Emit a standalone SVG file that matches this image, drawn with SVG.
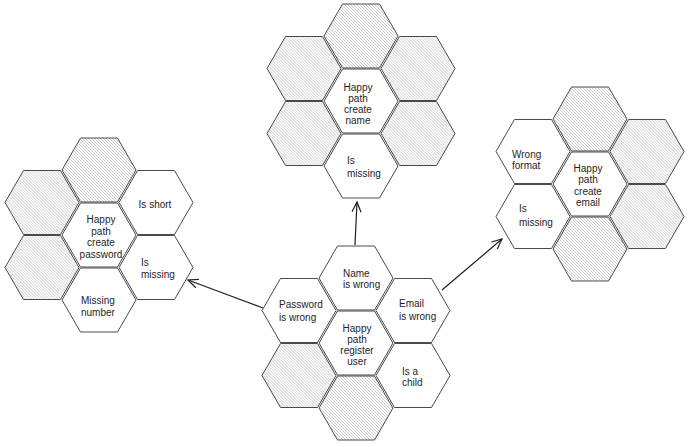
<svg xmlns="http://www.w3.org/2000/svg" xmlns:xlink="http://www.w3.org/1999/xlink" width="690" height="447" viewBox="0 0 690 447">
<style>
.hex{stroke:#4a4a4a;stroke-width:1;stroke-linejoin:round}
.white{fill:#fff}
.hatched{fill:url(#hatch)}
text{font-family:"Liberation Sans",Arial,sans-serif;font-size:10px;fill:#1e1e1e}
.mid{text-anchor:middle}
.conn{stroke:#1e1e1e;stroke-width:1.2;fill:none;marker-end:url(#arr)}
</style>
<defs>
<pattern id="hatch" patternUnits="userSpaceOnUse" width="3" height="3">
<rect width="3" height="3" fill="#fff"/>
<path d="M-1,-1 L4,4 M-1,2 L1,4 M2,-1 L4,1" stroke="#a6a6a6" stroke-width="0.6"/>
</pattern>
<polygon id="hex" points="-37,0 -18.5,-32 18.5,-32 37,0 18.5,32 -18.5,32"/>
<marker id="arr" markerWidth="14" markerHeight="14" refX="12" refY="7" orient="auto" markerUnits="userSpaceOnUse">
<path d="M2,2.5 L12,7 L2,11.5" fill="none" stroke="#1e1e1e" stroke-width="1.2"/>
</marker>
</defs>

<g id="connectors">
<line class="conn" x1="355" y1="245" x2="357" y2="202"/>
<line class="conn" x1="263" y1="308" x2="188" y2="280"/>
<line class="conn" x1="442" y1="290" x2="502" y2="239"/>
</g>

<!-- Top cluster: create name -->
<g id="name-top"><use xlink:href="#hex" href="#hex" x="361" y="36" class="hex hatched"/></g>
<g id="name-ul"><use xlink:href="#hex" href="#hex" x="304" y="68.5" class="hex hatched"/></g>
<g id="name-ur"><use xlink:href="#hex" href="#hex" x="418" y="68.5" class="hex hatched"/></g>
<g id="name-ll"><use xlink:href="#hex" href="#hex" x="304" y="133.5" class="hex hatched"/></g>
<g id="name-lr"><use xlink:href="#hex" href="#hex" x="418" y="133.5" class="hex hatched"/></g>
<g id="happy-name">
<use xlink:href="#hex" href="#hex" x="361" y="101" class="hex white"/>
<text class="mid" x="358" y="91">Happy</text>
<text class="mid" x="358" y="102">path</text>
<text class="mid" x="358" y="113">create</text>
<text class="mid" x="358" y="124">name</text>
</g>
<g id="name-missing">
<use xlink:href="#hex" href="#hex" x="361" y="166" class="hex white"/>
<text x="347" y="164">Is</text>
<text x="347" y="177">missing</text>
</g>

<!-- Right cluster: create email -->
<g id="email-top"><use xlink:href="#hex" href="#hex" x="590" y="119" class="hex hatched"/></g>
<g id="email-ur"><use xlink:href="#hex" href="#hex" x="647" y="151.5" class="hex hatched"/></g>
<g id="email-lr"><use xlink:href="#hex" href="#hex" x="647" y="216.5" class="hex hatched"/></g>
<g id="email-bottom"><use xlink:href="#hex" href="#hex" x="590" y="249" class="hex hatched"/></g>
<g id="wrong-format">
<use xlink:href="#hex" href="#hex" x="533" y="151.5" class="hex white"/>
<text x="512" y="158">Wrong</text>
<text x="512" y="169">format</text>
</g>
<g id="happy-email">
<use xlink:href="#hex" href="#hex" x="590" y="184" class="hex white"/>
<text class="mid" x="588" y="172">Happy</text>
<text class="mid" x="588" y="183">path</text>
<text class="mid" x="588" y="195">create</text>
<text class="mid" x="588" y="206">email</text>
</g>
<g id="email-missing">
<use xlink:href="#hex" href="#hex" x="533" y="216.5" class="hex white"/>
<text x="519" y="212">Is</text>
<text x="519" y="226">missing</text>
</g>

<!-- Left cluster: create password -->
<g id="pw-top"><use xlink:href="#hex" href="#hex" x="99" y="170" class="hex hatched"/></g>
<g id="pw-ul"><use xlink:href="#hex" href="#hex" x="42" y="202.5" class="hex hatched"/></g>
<g id="pw-ll"><use xlink:href="#hex" href="#hex" x="42" y="267.5" class="hex hatched"/></g>
<g id="is-short">
<use xlink:href="#hex" href="#hex" x="156" y="202.5" class="hex white"/>
<text class="mid" x="155" y="208">Is short</text>
</g>
<g id="happy-password">
<use xlink:href="#hex" href="#hex" x="99" y="235" class="hex white"/>
<text class="mid" x="101" y="223">Happy</text>
<text class="mid" x="101" y="235">path</text>
<text class="mid" x="101" y="246">create</text>
<text class="mid" x="101" y="258">password</text>
</g>
<g id="pw-missing">
<use xlink:href="#hex" href="#hex" x="156" y="267.5" class="hex white"/>
<text x="141" y="266">Is</text>
<text x="141" y="278">missing</text>
</g>
<g id="missing-number">
<use xlink:href="#hex" href="#hex" x="99" y="300" class="hex white"/>
<text x="81" y="304">Missing</text>
<text x="81" y="316">number</text>
</g>

<!-- Central cluster: register user -->
<g id="name-wrong">
<use xlink:href="#hex" href="#hex" x="356" y="278" class="hex white"/>
<text x="343" y="277">Name</text>
<text x="343" y="288">is wrong</text>
</g>
<g id="password-wrong">
<use xlink:href="#hex" href="#hex" x="299" y="310.5" class="hex white"/>
<text x="279" y="308">Password</text>
<text x="279" y="321">is wrong</text>
</g>
<g id="email-wrong">
<use xlink:href="#hex" href="#hex" x="413" y="310.5" class="hex white"/>
<text x="399" y="307">Email</text>
<text x="399" y="320">is wrong</text>
</g>
<g id="happy-register">
<use xlink:href="#hex" href="#hex" x="356" y="343" class="hex white"/>
<text class="mid" x="357" y="332">Happy</text>
<text class="mid" x="357" y="343">path</text>
<text class="mid" x="357" y="354">register</text>
<text class="mid" x="357" y="365">user</text>
</g>
<g id="reg-ll"><use xlink:href="#hex" href="#hex" x="299" y="375.5" class="hex hatched"/></g>
<g id="is-child">
<use xlink:href="#hex" href="#hex" x="413" y="375.5" class="hex white"/>
<text x="402" y="375">Is a</text>
<text x="402" y="386">child</text>
</g>
<g id="reg-bottom"><use xlink:href="#hex" href="#hex" x="356" y="408" class="hex hatched"/></g>
</svg>
